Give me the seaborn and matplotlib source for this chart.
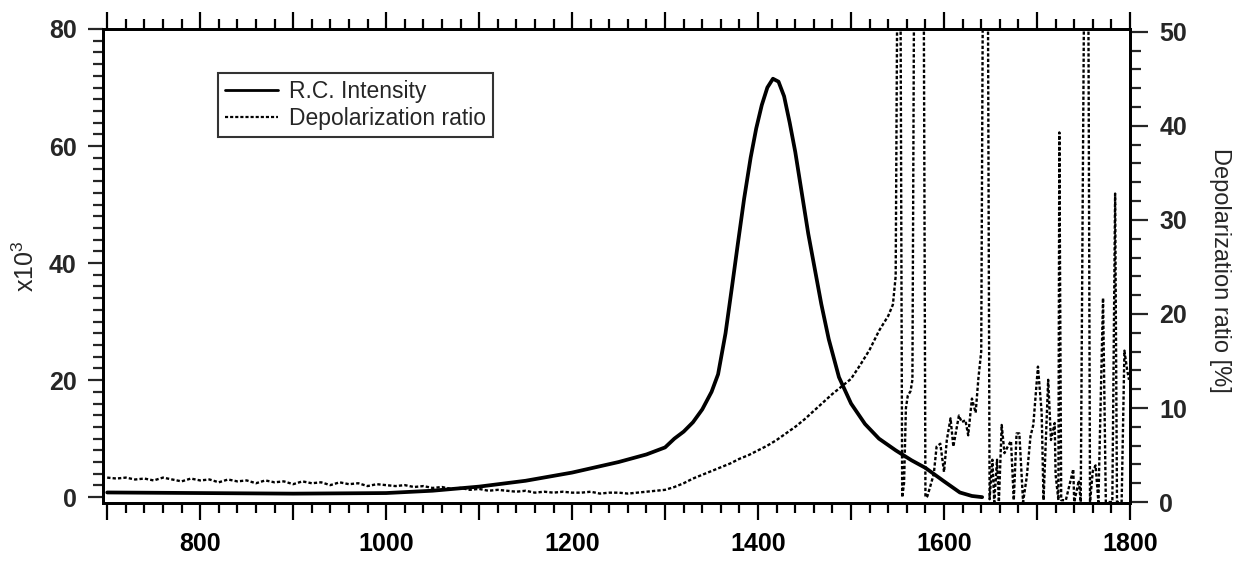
import matplotlib
matplotlib.use('Agg')
import matplotlib.pyplot as plt
from matplotlib.ticker import MultipleLocator, FuncFormatter
from matplotlib.lines import Line2D
import seaborn as sns

# R.C. intensity (left axis, x10^3)
int_x = [700, 800, 900, 1000, 1050, 1100, 1150, 1200, 1250, 1280, 1300, 1310,
         1320, 1330, 1340, 1350, 1357, 1365, 1372, 1378, 1385, 1392, 1398, 1404,
         1410, 1416, 1422, 1428, 1434, 1440, 1447, 1454, 1461, 1468, 1476, 1487,
         1500, 1515, 1530, 1548, 1565, 1580, 1600, 1617, 1630, 1641]
int_y = [0.8, 0.7, 0.6, 0.7, 1.1, 1.8, 2.8, 4.2, 6.0, 7.3, 8.5, 10.0,
         11.2, 12.8, 15.0, 18.0, 21.0, 28.0, 36.0, 43.0, 51.0, 58.0, 63.0, 67.0,
         70.0, 71.5, 71.0, 68.5, 64.0, 59.0, 52.0, 45.0, 39.0, 33.0, 27.0, 20.5,
         16.0, 12.5, 10.0, 8.0, 6.3, 5.0, 2.7, 0.8, 0.2, 0.0]

# depolarization ratio (right axis, %)
dep_x = [700, 710, 720, 730, 740, 750, 760, 770, 780, 790,
         800, 810, 820, 830, 840, 850, 860, 870, 880, 890,
         900, 910, 920, 930, 940, 950, 960, 970, 980, 990,
         1000, 1010, 1020, 1030, 1040, 1050, 1060, 1070, 1080, 1090,
         1100, 1110, 1120, 1130, 1140, 1150, 1160, 1170, 1180, 1190,
         1200, 1210, 1220, 1230, 1240, 1250, 1260, 1270, 1280, 1290,
         1300, 1310, 1320, 1330, 1340, 1350, 1360, 1370, 1380, 1390,
         1400, 1410, 1420, 1430, 1440, 1450, 1460, 1470, 1480, 1490,
         1500, 1510, 1520, 1530, 1540, 1545, 1548, 1550, 1553, 1555,
         1557, 1559, 1561, 1564, 1566, 1568, 1574, 1578, 1580, 1582,
         1585, 1589, 1592, 1596, 1600, 1603, 1607, 1610, 1616, 1619,
         1623, 1626, 1630, 1634, 1637, 1640, 1642, 1647, 1649, 1652,
         1654, 1657, 1659, 1662, 1665, 1668, 1672, 1675, 1678, 1681,
         1685, 1689, 1693, 1696, 1701, 1705, 1707, 1712, 1715, 1719,
         1720, 1723, 1724, 1726, 1731, 1739, 1740, 1745, 1747, 1751,
         1755, 1757, 1760, 1763, 1766, 1771, 1774, 1781, 1784, 1786,
         1791, 1794, 1797, 1799]
dep_y = [2.6, 2.5, 2.6, 2.4, 2.5, 2.3, 2.6, 2.4, 2.2, 2.5,
         2.3, 2.4, 2.1, 2.4, 2.2, 2.3, 2.0, 2.3, 2.1, 2.2,
         1.9, 2.2, 2.0, 2.1, 1.8, 2.1, 1.9, 2.0, 1.7, 1.9,
         1.8, 1.7, 1.8, 1.6, 1.7, 1.5, 1.6, 1.4, 1.5, 1.3,
         1.4, 1.2, 1.3, 1.2, 1.1, 1.2, 1.0, 1.1, 1.0, 1.1,
         1.0, 1.0, 1.1, 0.9, 1.0, 1.0, 0.9, 1.0, 1.1, 1.2,
         1.3, 1.6, 2.0, 2.5, 2.9, 3.3, 3.7, 4.1, 4.6, 5.0,
         5.5, 6.0, 6.6, 7.3, 8.0, 8.8, 9.7, 10.6, 11.5, 12.3,
         13.1, 14.6, 16.2, 18.2, 19.8, 21.0, 24.0, 60.0, 60.0, 0.5,
         2.0, 10.0, 11.3, 11.8, 13.0, 60.0, 60.0, 60.0, 0.5, 0.6,
         1.6, 3.0, 5.9, 6.2, 3.2, 6.6, 8.9, 5.9, 9.2, 8.5,
         8.7, 7.1, 11.0, 9.5, 13.2, 16.0, 60.0, 60.0, 0.3, 4.5,
         0.0, 4.5, 0.0, 8.2, 5.2, 5.8, 6.5, 0.2, 7.3, 7.3,
         0.0, 2.7, 7.0, 8.2, 14.4, 9.5, 0.2, 13.0, 6.6, 8.4,
         2.9, 0.2, 39.3, 0.2, 0.2, 3.5, 0.0, 2.3, 0.0, 60.0,
         60.0, 0.0, 3.3, 3.9, 0.0, 21.7, 0.0, 0.0, 32.8, 0.0,
         0.0, 16.1, 14.0, 13.0]

xticks_major = 100
xticks_minor = 20

sns.set_style('ticks')
plt.rcParams['font.family'] = ['Liberation Sans', 'DejaVu Sans']
plt.rcParams['mathtext.default'] = 'regular'

fig = plt.figure(figsize=(12.47, 5.73), dpi=100)
ax = fig.add_axes([103 / 1247, 1 - 503 / 573, 1027 / 1247, 474 / 573])
ax2 = ax.twinx()

dep_style = (0, (1.4, 0.9))
sns.lineplot(x=int_x, y=int_y, ax=ax, color='black', linewidth=2.7,
             estimator=None, sort=False)
sns.lineplot(x=dep_x, y=dep_y, ax=ax2, color='black', linewidth=1.7,
             linestyle=dep_style, estimator=None, sort=False)

ax.set_xlim(695.5, 1800)
ax.set_ylim(-1.0, 80)
ax2.set_ylim(-0.1, 50.3)

ax.xaxis.set_major_locator(MultipleLocator(xticks_major))
ax.xaxis.set_minor_locator(MultipleLocator(xticks_minor))
ax.xaxis.set_major_formatter(FuncFormatter(lambda v, p: f'{v:.0f}' if v % 200 == 0 else ''))
ax.yaxis.set_major_locator(MultipleLocator(20))
ax.yaxis.set_minor_locator(MultipleLocator(2))
ax2.yaxis.set_major_locator(MultipleLocator(10))
ax2.yaxis.set_minor_locator(MultipleLocator(2))

for a in (ax, ax2):
    for s in a.spines.values():
        s.set_linewidth(2.0)
        s.set_color('black')

ax.tick_params(axis='x', which='both', direction='out', top=True, bottom=True,
               width=1.6, labelsize=18, pad=9, colors='black')
ax.tick_params(axis='x', which='major', length=12)
ax.tick_params(axis='x', which='minor', length=7)
ax.tick_params(axis='y', which='both', direction='out', left=True, right=False,
               width=1.6, labelsize=18, pad=8)
ax.tick_params(axis='y', which='major', length=11)
ax.tick_params(axis='y', which='minor', length=7)
ax2.tick_params(axis='y', which='both', direction='out', right=True, left=False,
                width=1.6, labelsize=18, pad=8)
ax2.tick_params(axis='y', which='major', length=13)
ax2.tick_params(axis='y', which='minor', length=8)
for lab in ax.get_xticklabels() + ax.get_yticklabels() + ax2.get_yticklabels():
    lab.set_fontweight('bold')

ax.set_xlabel('')
ax.set_ylabel('x10$^3$', fontsize=18)
ax.yaxis.set_label_coords(-0.062, 0.5)
ax2.set_ylabel('Depolarization ratio [%]', fontsize=17, rotation=270, va='center')
ax2.yaxis.set_label_coords(1.088, 0.49)

handles = [Line2D([], [], color='black', linewidth=2.0),
           Line2D([], [], color='black', linewidth=1.6, linestyle=dep_style)]
leg = fig.legend(handles, ['R.C. Intensity', 'Depolarization ratio'],
                 loc='upper left', bbox_to_anchor=(218 / 1247, 1 - 73 / 573),
                 frameon=True, fancybox=False, edgecolor='black', fontsize=16.5,
                 handlelength=2.3, handletextpad=0.5, borderpad=0.3,
                 labelspacing=0.2, borderaxespad=0)
leg.get_frame().set_linewidth(1.5)

fig.savefig('out.png', dpi=100)
